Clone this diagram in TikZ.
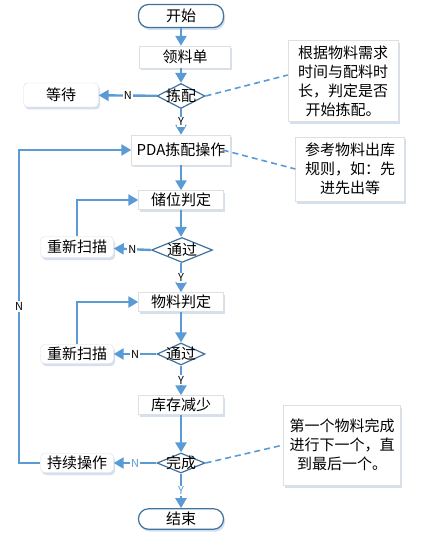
\documentclass[tikz,border=0pt]{standalone}
\usepackage{fontspec}
\setmainfont{Noto Sans CJK SC}
\usepackage{tikz}
\usetikzlibrary{shapes.geometric, arrows.meta, shadows}

\definecolor{flowblue}{RGB}{91,155,213}
\definecolor{edgeblue}{RGB}{65,113,156}
\definecolor{shadeblue}{RGB}{210,224,240}

\tikzset{
    boxshadow/.style={drop shadow={shadow xshift=1.5pt, shadow yshift=-2.5pt, fill=shadeblue, opacity=1}},
    procbox/.style={rectangle, draw=gray!25, fill=white, boxshadow, inner sep=0pt, font=\fontsize{15}{17}\selectfont},
    endbox/.style={rectangle, rounded corners=10pt, draw=edgeblue, line width=1.2pt, fill=white, boxshadow, minimum width=85pt, minimum height=23pt, font=\fontsize{15}{17}\selectfont},
    sidebox/.style={rectangle, rounded corners=4pt, draw=gray!25, fill=white, boxshadow, minimum width=73pt, minimum height=21pt, inner sep=0pt, font=\fontsize{15}{17}\selectfont},
    decision/.style={diamond, draw=edgeblue, line width=1.2pt, fill=white, inner sep=0pt, minimum width=48pt, minimum height=25pt},
    dlabel/.style={inner sep=0pt, font=\fontsize{15}{17}\selectfont},
    notebox/.style={rectangle, draw=gray!25, fill=white, boxshadow, inner sep=0pt, align=center, font=\fontsize{15}{19}\selectfont},
    flow/.style={draw=flowblue, line width=2.4pt, -{Triangle[width=11pt, length=10pt]}},
    remark/.style={draw=flowblue, line width=1.6pt, dash pattern=on 6pt off 4pt},
    tag/.style={fill=white, inner sep=1pt, font=\fontsize{11}{12}\selectfont}
}

\begin{document}
\begin{tikzpicture}[x=1pt, y=-1pt]
    \useasboundingbox (0, 0) rectangle (424, 556);

    % main column
    \node[endbox] (start) at (181, 16) {开始};
    \node[procbox, minimum width=91pt, minimum height=22pt] (order) at (185, 57) {领料单};
    \node[decision] (pick) at (181, 96) {};
    \node[procbox, minimum width=99pt, minimum height=30pt] (pda) at (181, 150) {PDA拣配操作};
    \node[procbox, minimum width=85pt, minimum height=19pt] (slot) at (181, 200) {储位判定};
    \node[decision, minimum width=61pt] (passa) at (182, 250) {};
    \node[procbox, minimum width=85pt, minimum height=19pt] (mat) at (181, 302) {物料判定};
    \node[decision, minimum height=22pt] (passb) at (181, 354) {};
    \node[procbox, minimum width=85pt, minimum height=19pt] (stock) at (181, 405) {库存减少};
    \node[decision, minimum height=20pt] (done) at (181, 463) {};
    \node[endbox, minimum height=19pt] (finish) at (181, 519) {结束};

    % text inside the diamonds
    \node[dlabel] (picktext) at (pick) {拣配};
    \node[dlabel] (passatext) at (passa) {通过};
    \node[dlabel] (passbtext) at (passb) {通过};
    \node[dlabel] (donetext) at (done) {完成};

    % side boxes
    \node[sidebox, minimum width=75pt, minimum height=24pt] (wait) at (61, 95) {等待};
    \node[sidebox] (rescana) at (77, 247) {重新扫描};
    \node[sidebox, minimum height=19pt] (rescanb) at (77, 354) {重新扫描};
    \node[sidebox, minimum height=19pt] (keep) at (77, 463) {持续操作};

    % remarks
    \node[notebox, minimum width=110pt, minimum height=81pt] (notea) at (343, 81) {根据物料需求\\时间与配料时\\长，判定是否\\开始拣配。};
    \node[notebox, minimum width=109pt, minimum height=64pt] (noteb) at (350, 169) {参考物料出库\\规则，如：先\\进先出等};
    \node[notebox, minimum width=117pt, minimum height=80pt] (notec) at (342, 445) {第一个物料完成\\进行下一个，直\\到最后一个。};

    % main flow
    \draw[flow] (start) -- (start |- order.north);
    \draw[flow] (order.south -| pick) -- (pick);
    \draw[flow] (pick) -- node[tag] {Y} (pda);
    \draw[flow] (pda) -- (slot);
    \draw[flow] (slot) -- (passa.north -| slot);
    \draw[flow] (passa.south -| slot) -- node[tag] {Y} (mat);
    \draw[flow] (mat) -- (passb);
    \draw[flow] (passb) -- node[tag] {Y} (stock);
    \draw[flow] (stock) -- (done);
    \draw[flow] (done) -- node[tag, text=flowblue] {Y} (finish);

    % no branches
    \draw[flow] (pick) -- node[tag] {N} (wait);
    \draw[flow] (passa.west) -- node[tag] {N} (rescana);
    \draw[flow] (passb) -- node[tag] {N} (rescanb);
    \draw[flow] (done) -- node[tag, text=flowblue] {N} (keep);

    % loops back
    \draw[flow] (rescana.north) |- (slot.west);
    \draw[flow] (rescanb.north) |- (mat.west);
    \coordinate (back) at (19, 463);
    \draw[flow] (keep.west) -- (back) |- node[tag, pos=0.25] {N} (pda.west);

    % dashed remarks
    \draw[remark] (pick.east) -- ([yshift=6pt]notea.west);
    \draw[remark] ([xshift=-8pt]pda.east) -- (noteb.west);
    \draw[remark] (done.east) -- (notec.west);
\end{tikzpicture}
\end{document}
